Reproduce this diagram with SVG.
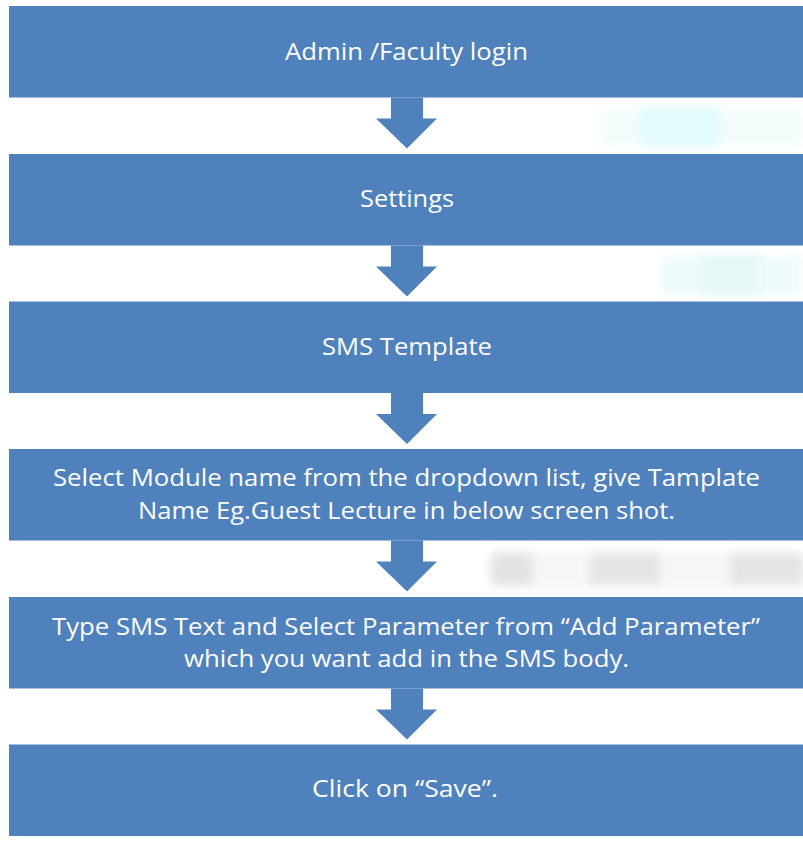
<svg xmlns="http://www.w3.org/2000/svg" width="803" height="843" viewBox="0 0 803 843">
  <defs>
    <style>
      .box { fill: #4F81BD; }
      .arrow { fill: #4F81BD; }
      .lbl { font-family: "Open Sans", "Liberation Sans", sans-serif; font-size: 24px; fill: #FFFFFF; text-anchor: middle; }
      .smudge { filter: url(#blur); }
    </style>
    <filter id="blur" x="-30%" y="-60%" width="160%" height="220%">
      <feGaussianBlur stdDeviation="5"/>
    </filter>
  </defs>
  <rect width="803" height="843" fill="#FFFFFF"/>

  <g id="background-artifacts">
    <rect class="smudge" x="600" y="108" width="203" height="38" fill="#F4FCFC"/>
    <rect class="smudge" x="640" y="108" width="80" height="38" fill="#E2FBFB"/>
    <rect class="smudge" x="660" y="256" width="143" height="38" fill="#F0FBFB"/>
    <rect class="smudge" x="700" y="256" width="60" height="38" fill="#E4F8F8"/>
    <rect class="smudge" x="490" y="552" width="313" height="36" fill="#F6F6F6"/>
    <rect class="smudge" x="492" y="554" width="40" height="30" fill="#E2E2E2"/>
    <rect class="smudge" x="590" y="554" width="70" height="30" fill="#E4E4E4"/>
    <rect class="smudge" x="730" y="554" width="73" height="30" fill="#E4E4E4"/>
  </g>

  <g id="connectors">
    <polygon class="arrow" points="391,97.5 423,97.5 423,118.5 437,118.5 407,148.5 376,118.5 391,118.5"/>
    <polygon class="arrow" points="391,245.5 423,245.5 423,266.5 437,266.5 407,296.5 376,266.5 391,266.5"/>
    <polygon class="arrow" points="391,393 423,393 423,414 437,414 407,444 376,414 391,414"/>
    <polygon class="arrow" points="391,540.5 423,540.5 423,561.5 437,561.5 407,591.5 376,561.5 391,561.5"/>
    <polygon class="arrow" points="391,688.5 423,688.5 423,709.5 437,709.5 407,739.5 376,709.5 391,709.5"/>
  </g>

  <g id="node-login">
    <rect class="box" x="9" y="6" width="794" height="91.5"/>
    <text class="lbl" x="406.5" y="60" textLength="243" lengthAdjust="spacingAndGlyphs">Admin /Faculty login</text>
  </g>
  <g id="node-settings">
    <rect class="box" x="9" y="154" width="794" height="91.5"/>
    <text class="lbl" x="407" y="207" textLength="94" lengthAdjust="spacingAndGlyphs">Settings</text>
  </g>
  <g id="node-sms-template">
    <rect class="box" x="9" y="301.5" width="794" height="91.5"/>
    <text class="lbl" x="407" y="355" textLength="170" lengthAdjust="spacingAndGlyphs">SMS Template</text>
  </g>
  <g id="node-select-module">
    <rect class="box" x="9" y="449" width="794" height="91.5"/>
    <text class="lbl" x="406.5" y="486" textLength="707" lengthAdjust="spacingAndGlyphs">Select Module name from the dropdown list, give Tamplate</text>
    <text class="lbl" x="406.5" y="519" textLength="537" lengthAdjust="spacingAndGlyphs">Name Eg.Guest Lecture in below screen shot.</text>
  </g>
  <g id="node-type-sms">
    <rect class="box" x="9" y="597" width="794" height="91.5"/>
    <text class="lbl" x="406" y="635" textLength="708" lengthAdjust="spacingAndGlyphs">Type SMS Text and Select Parameter from “Add Parameter”</text>
    <text class="lbl" x="406.5" y="667" textLength="445" lengthAdjust="spacingAndGlyphs">which you want add in the SMS body.</text>
  </g>
  <g id="node-save">
    <rect class="box" x="9" y="744.5" width="794" height="91.5"/>
    <text class="lbl" x="405" y="797" textLength="186" lengthAdjust="spacingAndGlyphs">Click on “Save”.</text>
  </g>
</svg>
